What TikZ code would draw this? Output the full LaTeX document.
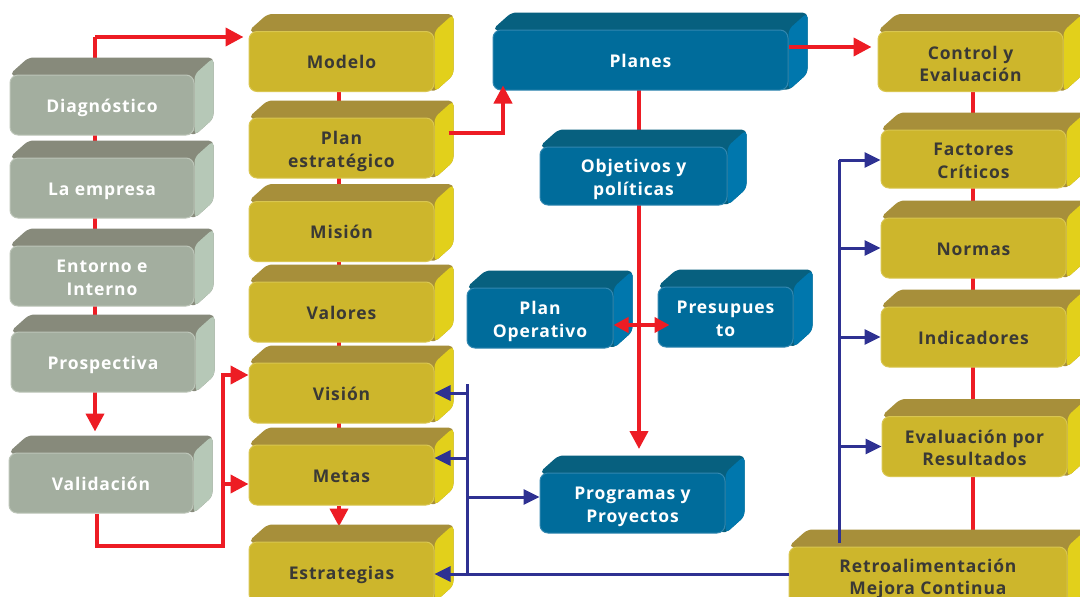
\documentclass[tikz,border=0pt]{standalone}
\usepackage{fontspec}
\newfontfamily\boxfont[LetterSpace=5]{Open Sans}
\usetikzlibrary{arrows.meta,calc}
\definecolor{gfront}{HTML}{A3AE9F}
\definecolor{gtop}{HTML}{878A7B}
\definecolor{gside}{HTML}{B6C8B7}
\definecolor{gedge}{HTML}{BCC5B8}
\definecolor{yfront}{HTML}{CDB62C}
\definecolor{ytop}{HTML}{A78F3A}
\definecolor{yside}{HTML}{E2D01B}
\definecolor{yedge}{HTML}{D9C650}
\definecolor{bfront}{HTML}{006C9B}
\definecolor{btop}{HTML}{07607F}
\definecolor{bside}{HTML}{0077AD}
\definecolor{bedge}{HTML}{3287B0}
\definecolor{rline}{HTML}{ED1C24}
\definecolor{bline}{HTML}{2E3192}
\definecolor{ytext}{HTML}{3A3935}
\pgfdeclarelayer{bg}
\pgfdeclarelayer{back}
\pgfdeclarelayer{faces}
\pgfsetlayers{bg,back,faces,main}
\newcommand\twol[3][-0.65pt]{\raisebox{#1}[0pt][0pt]{\begin{tabular}{@{}c@{}}#2\\#3\end{tabular}}}
\begin{document}
\begin{tikzpicture}[x=1pt,y=-1pt,
  front/.style={rounded corners=8pt, inner sep=0pt,
    font={\boxfont\bfseries\fontsize{17.5}{22.5}\selectfont}, line width=1pt,
    execute at begin node={\rule{0pt}{18.5pt}},
    execute at end node={\rule[-4.5pt]{0pt}{4.5pt}}},
  gbox/.style={front, fill=gfront, draw=gedge, text=white, minimum width=184pt, minimum height=60pt},
  ybox/.style={front, fill=yfront, draw=yedge, text=ytext, minimum width=185pt, minimum height=60pt},
  bbox/.style={front, fill=bfront, draw=bedge, text=white, minimum width=185pt, minimum height=60pt},
  redline/.style={draw=rline, line width=4pt},
  redarr/.style={redline, -{Triangle[length=18pt,width=18pt]}},
  blueline/.style={draw=bline, line width=3pt},
  bluearr/.style={blueline, -{Triangle[length=16pt,width=15pt]}}
]
\useasboundingbox (0,0) rectangle (1080,597);
\begin{pgfonlayer}{bg}
\fill[white] (0,0) rectangle (1080,597);
\end{pgfonlayer}

% gray column
\node[gbox] (diag) at (102,105) {Diagnóstico};
\node[gbox] (emp)  at (102,188) {La empresa};
\node[gbox] (ent)  at (102,276) {\twol{Entorno e}{Interno}};
\node[gbox] (pros) at (103,362) {Prospectiva};
\node[gbox] (gval) at (101,483) {Validación};

% yellow left column
\node[ybox] (mod)  at (341.5,61.5) {Modelo};
\node[ybox] (plan) at (341.5,148) {\twol{Plan}{estratégico}};
\node[ybox] (mis)  at (341.5,231.5) {Misión};
\node[ybox] (valo) at (341.5,312) {Valores};
\node[ybox] (vis)  at (341.5,393) {Visión};
\node[ybox] (met)  at (341.5,475) {Metas};
\node[ybox] (est)  at (341.5,572) {Estrategias};

% blue
\node[bbox, minimum width=295pt] (planes) at (640.5,60) {Planes};
\node[bbox, minimum width=187pt, minimum height=58pt] (obj) at (633.5,176) {\twol{Objetivos y}{políticas}};
\node[bbox, minimum width=146pt] (pop)  at (540,318) {\twol{Plan}{Operativo}};
\node[bbox, minimum width=135pt] (pres) at (725.5,317) {\twol{Presupues}{to}};
\node[bbox] (prog) at (632.5,503) {\twol{Programas y}{Proyectos}};

% yellow right column
\node[ybox] (ctrl) at (970.5,61.5) {\twol[-1.6pt]{Control y}{Evaluación}};
\node[ybox, minimum height=58pt] (fac) at (973.5,159) {\twol{Factores}{Críticos}};
\node[ybox] (nor) at (973.5,248) {Normas};
\node[ybox] (ind) at (973.5,337) {Indicadores};
\node[ybox] (eva) at (974.5,446.5) {\twol{Evaluación por}{Resultados}};
\node[ybox, minimum width=278pt] (ret) at (928,577) {\twol[0.9pt]{Retroalimentación}{Mejora Continua}};

% 3D faces
\begin{pgfonlayer}{faces}
\foreach \n/\t/\s in {diag/gtop/gside, emp/gtop/gside, ent/gtop/gside, pros/gtop/gside, gval/gtop/gside,
  mod/ytop/yside, plan/ytop/yside, mis/ytop/yside, valo/ytop/yside, vis/ytop/yside, met/ytop/yside, est/ytop/yside,
  planes/btop/bside, obj/btop/bside, pop/btop/bside, pres/btop/bside, prog/btop/bside,
  ctrl/ytop/yside, fac/ytop/yside, nor/ytop/yside, ind/ytop/yside, eva/ytop/yside, ret/ytop/yside}{
  \fill[\t, rounded corners=5pt] (\n.north west) -- ++(19,-17) -- ($(\n.north east)+(19,-17)$)
     -- ($(\n.south east)+(19,-17)$) -- (\n.south east) -- cycle;
  \fill[\s, rounded corners=5pt] (\n.north east) -- ($(\n.north east)+(19,-17)$)
     -- ($(\n.south east)+(19,-17)$) -- (\n.south east) -- cycle;
}
\end{pgfonlayer}

% red connectors (behind)
\begin{pgfonlayer}{back}
\coordinate (rtop) at (95,37);
\draw[redarr, shorten >=5pt] (rtop) -- (rtop -| mod.west);
\draw[redline] (rtop) -- (rtop |- pros.south);
\draw[redarr] (rtop |- pros.south) -- ([yshift=21pt]gval.north -| rtop);
\coordinate (vb) at (97,546);
\coordinate (vc) at (223,546);
\coordinate (vtop) at (223,375);
\coordinate (vmid) at (223,484);
\draw[redarr] (vb |- gval.south) -- (vb) -- (vc) -- (vtop) -- (vtop -| vis.west);
\draw[redarr] (vmid) -- (vmid -| met.west);
\coordinate (ycol) at (339,0);
\draw[redline] (ycol |- mod.center) -- (ycol |- met.center);
\draw[redarr] (ycol |- met.south) -- ([yshift=15pt]est.north -| ycol);
\coordinate (pt) at (639,449);
\draw[redarr] (planes.center -| pt) -- (pt);
\coordinate (rcol) at (973,0);
\draw[redline] (rcol |- ctrl.center) -- (rcol |- ret.north);
\end{pgfonlayer}

% red connectors (in front)
\coordinate (pc) at (503,133);
\draw[redarr, shorten >=-5pt] ([xshift=14pt]plan.east |- pc) -- (pc) -- (pc |- planes.south);
\draw[redline, {Triangle[length=15pt,width=15pt]}-{Triangle[length=15pt,width=15pt]}]
  ([yshift=-7pt]pop.east) -- ([xshift=12pt,yshift=-8pt]pres.west);
\draw[redarr, shorten >=6pt] ([yshift=13pt]planes.east) -- ([yshift=13pt]planes.east -| ctrl.west);

% blue connectors
\coordinate (bl) at (467,384);
\coordinate (bb) at (467,574);
\draw[blueline] (bl) -- (bb) -- (bb -| ret.west);
\draw[bluearr] (vis.east -| bl) -- (vis.east);
\draw[bluearr] ([yshift=17pt]met.east -| bl) -- ([yshift=17pt]met.east);
\draw[bluearr] (bb) -- (bb -| est.east);
\draw[bluearr] ([yshift=6pt]prog.west -| bl) -- ([yshift=6pt]prog.west);
\coordinate (rb) at (839,160);
\draw[blueline] (rb |- 0,543) -- (rb);
\draw[bluearr] (rb) -- (rb -| fac.west);
\draw[bluearr] (nor.west -| rb) -- (nor.west);
\draw[bluearr] (ind.west -| rb) -- (ind.west);
\draw[bluearr] (eva.west -| rb) -- (eva.west);
\end{tikzpicture}
\end{document}
